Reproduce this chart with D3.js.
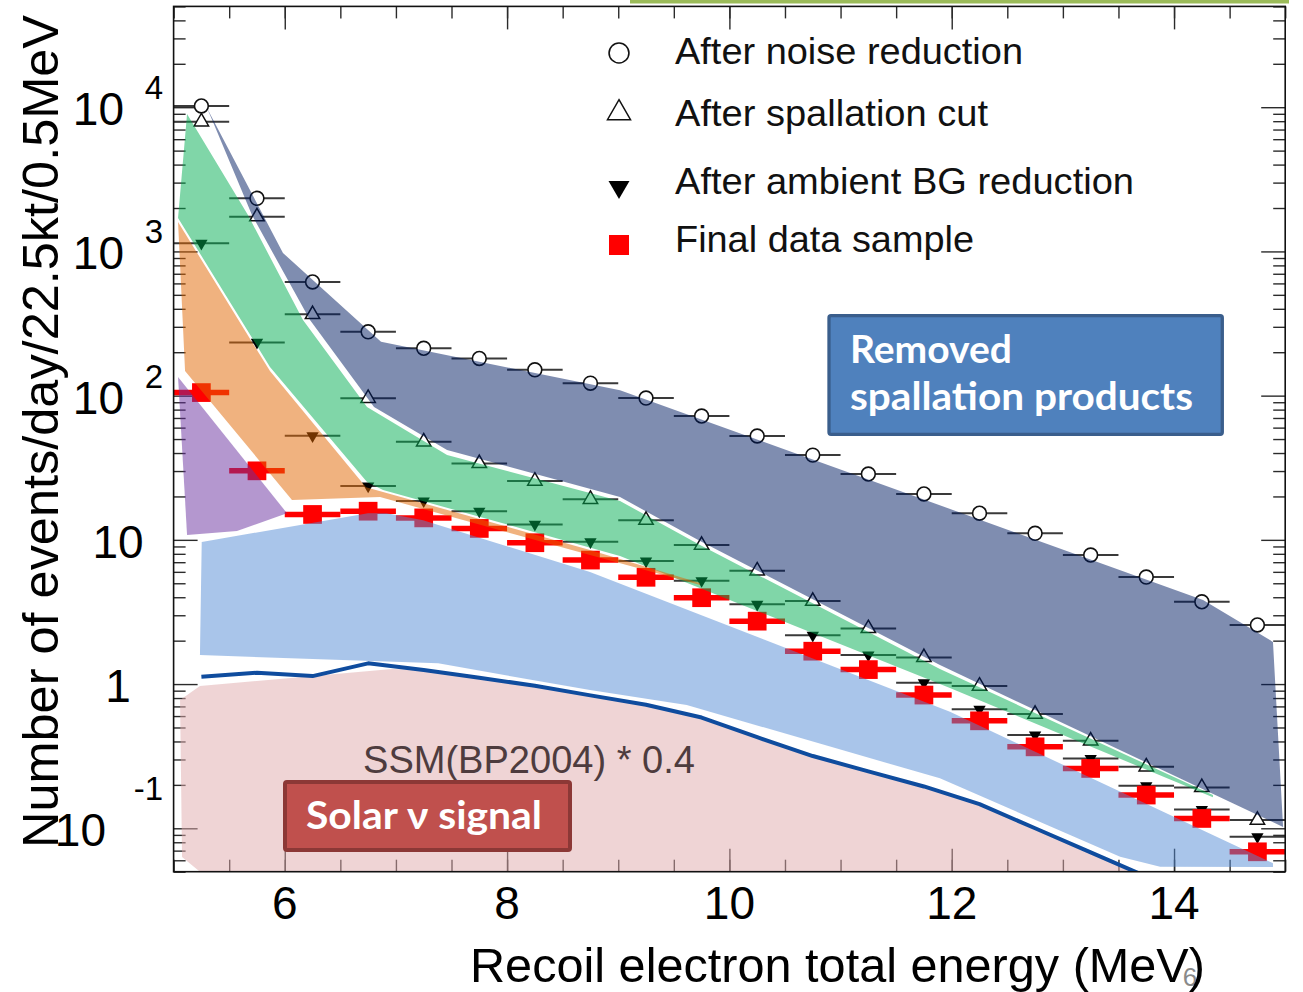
<!DOCTYPE html>
<html>
<head>
<meta charset="utf-8">
<script src="https://cdn.jsdelivr.net/npm/d3@7"></script>
<style>
  html, body { margin: 0; padding: 0; background: #fff; }
  svg { display: block; }
</style>
</head>
<body>
<svg id="chart" width="1303" height="992"></svg>
<script>
// ---- Data: recoil electron spectrum at each reduction step (events/day/22.5kt/0.5MeV) ----
const energy = [5.25, 5.75, 6.25, 6.75, 7.25, 7.75, 8.25, 8.75, 9.25, 9.75,
                10.25, 10.75, 11.25, 11.75, 12.25, 12.75, 13.25, 13.75, 14.25, 14.75];
const binHalfWidth = 0.25;

const afterNoise = [10200, 2335, 614, 277, 213, 181, 151, 122, 96.2, 72.2,
                    52.5, 38.7, 28.6, 20.8, 15.3, 11.1, 7.85, 5.52, 3.72, 2.57];
const afterSpallation = [7930, 1741, 366, 95.8, 47.9, 33.9, 25.6, 19.1, 13.7, 9.2,
                         6.1, 3.76, 2.43, 1.53, 0.969, 0.619, 0.404, 0.267, 0.192, 0.114];
const afterAmbient = [1138, 234, 52.7, 23.6, 18.6, 15.8, 12.8, 9.70, 7.13, 5.21,
                      3.57, 2.18, 1.59, 1.02, 0.668, 0.443, 0.305, 0.197, 0.135, 0.0873];
const finalSample = [105, 30.1, 15.0, 15.8, 14.2, 12.0, 9.55, 7.24, 5.50, 3.97,
                     2.73, 1.69, 1.26, 0.839, 0.556, 0.367, 0.260, 0.170, 0.117, 0.0687];

// Solar model expectation, SSM(BP2004) x 0.4
const ssmEnergy = [5.25, 5.75, 6.25, 6.75, 7.25, 7.75, 8.25, 8.75, 9.25, 9.75,
                   10.25, 10.75, 11.25, 11.75, 12.25, 12.75, 13.25, 13.75];
const ssmRate = [1.124, 1.198, 1.136, 1.392, 1.25, 1.107, 0.973, 0.835, 0.718, 0.586,
                 0.428, 0.317, 0.248, 0.195, 0.147, 0.100, 0.068, 0.0463];

// Shaded components, outlines as [energy (MeV), rate] pairs
const spallationUpper = [[5.300, 9870], [5.984, 975], [6.866, 236], [9.016, 109], [14.261, 3.83], [14.890, 1.96]];
const spallationLower = [[5.347, 8150], [5.705, 1787], [6.227, 334], [6.803, 83.4], [7.460, 42.0],
                         [9.016, 19.8], [9.736, 9.81], [11.894, 1.355], [14.981, 0.102]];

const ambientUpper = [[5.121, 8970], [5.669, 1787], [6.164, 334], [6.740, 83.4], [7.460, 38.7],
                      [9.016, 18.6], [9.736, 9.20], [11.894, 1.27], [14.350, 0.170]];
const ambientLower = [[5.040, 1706], [5.867, 158], [6.740, 25.2], [6.884, 22.2], [9.016, 7.72],
                      [11.984, 0.938], [14.350, 0.164]];

const reductionUpper = [[5.040, 1600], [5.867, 148], [6.731, 23.2], [8.746, 8.5], [9.736, 5.02]];
const reductionLower = [[5.103, 148], [6.065, 18.9], [6.857, 19.8], [8.746, 7.85], [9.736, 4.86]];

const lowEnergyUpper = [[5.040, 134.6], [6.020, 15.3]];
const lowEnergyLower = [[5.121, 10.8], [5.570, 11.5], [6.020, 15.3]];

const backgroundUpper = [[5.253, 9.66], [6.749, 15.3], [6.917, 15.3], [7.244, 13.7], [8.746, 5.98],
                         [11.984, 0.642], [14.890, 0.0573]];
const backgroundLower = [[5.237, 1.589], [7.380, 1.392], [8.746, 0.909], [9.616, 0.715], [11.894, 0.222],
                         [13.515, 0.0634], [13.875, 0.0541], [14.890, 0.0538]];

const signalLeftEdge = [[5.058, 0.774], [5.237, 0.969], [6.965, 1.27]];
const signalLower = [[5.076, 0.0632], [5.237, 0.05], [13.75, 0.05]];

// Axis ticks and labels
const xMinorTicks = d3.range(5, 15.001, 0.5);
const xTickLabels = [6, 8, 10, 12, 14];
const yDecades = [0.1, 1, 10, 100, 1000, 10000];
const yLabelValues = [10000, 1000, 100, 10, 1, 0.1];
const yLabelBase = ["10", "10", "10", "10", "1", "10"];
const yLabelExp = ["4", "3", "2", "", "", "-1"];

const legendLabels = ["After noise reduction", "After spallation cut",
                      "After ambient BG reduction", "Final data sample"];

// ---- Scales ----
const svg = d3.select("#chart");
const x = d3.scaleLinear().domain([5, 15]).range([173.6, 1285.2]);
const y = d3.scaleLog().domain([0.05, 5e4]).range([871.7, 6.4]);
const [xL, xR] = x.range();
const [yB, yT] = y.range();

const yMinorTicks = [];
for (let p = -2; p <= 4; p++) {
  for (let k = 2; k <= 9; k++) {
    const v = k * Math.pow(10, p);
    if (v >= 0.05 && v <= 5e4) yMinorTicks.push(v);
  }
}

svg.append("defs").append("clipPath").attr("id", "plotArea")
  .append("rect").attr("x", xL).attr("y", yT).attr("width", xR - xL).attr("height", yB - yT);

// thin green rule along the top edge
svg.append("line").attr("x1", 630).attr("x2", 1289).attr("y1", 1.5).attr("y2", 1.5)
  .attr("stroke", "#9bbb59").attr("stroke-width", 4);

// ---- Ticks (inward on all four sides) ----
function ticks(axisFn, scale, values, len, tx, ty) {
  const g = svg.append("g").attr("transform", `translate(${tx},${ty})`)
    .call(axisFn(scale).tickValues(values).tickSizeInner(-len).tickSizeOuter(0).tickFormat(""));
  g.select(".domain").remove();
  g.selectAll("line").attr("stroke", "#2b2b2b").attr("stroke-width", 1.4);
  g.selectAll("text").remove();
}
ticks(d3.axisBottom, x, xMinorTicks, 12, 0, yB);
ticks(d3.axisBottom, x, xTickLabels, 23, 0, yB);
ticks(d3.axisTop, x, xMinorTicks, 12, 0, yT);
ticks(d3.axisTop, x, xTickLabels, 23, 0, yT);
ticks(d3.axisLeft, y, yMinorTicks, 12, xL, 0);
ticks(d3.axisLeft, y, yDecades, 24, xL, 0);
ticks(d3.axisRight, y, yMinorTicks, 12, xR, 0);
ticks(d3.axisRight, y, yDecades, 24, xR, 0);

// ---- Data points with bin-width error bars ----
const pointsLayer = svg.append("g");
function drawSeries(values, opt) {
  const pts = energy.map((e, i) => [e, values[i]]);
  const g = pointsLayer.append("g");
  g.selectAll("line").data(pts).join("line")
    .attr("x1", d => x(d[0] - binHalfWidth)).attr("x2", d => x(d[0] + binHalfWidth))
    .attr("y1", d => y(d[1])).attr("y2", d => y(d[1]))
    .attr("stroke", opt.barColor).attr("stroke-width", opt.barWidth);
  g.selectAll("path").data(pts).join("path")
    .attr("transform", d => `translate(${x(d[0])},${y(d[1])})` + (opt.flip ? " rotate(180)" : ""))
    .attr("d", d3.symbol(opt.type, opt.size)())
    .attr("fill", opt.fill).attr("stroke", opt.stroke).attr("stroke-width", opt.strokeWidth);
}
const seriesStyle = [
  { type: d3.symbolCircle, size: 150, fill: "#fff", stroke: "#111", strokeWidth: 1.6, barColor: "#3a3a3a", barWidth: 2 },
  { type: d3.symbolTriangle, size: 90, fill: "#fff", stroke: "#111", strokeWidth: 1.5, barColor: "#3a3a3a", barWidth: 2 },
  { type: d3.symbolTriangle, size: 66, flip: true, fill: "#000", stroke: "none", strokeWidth: 0, barColor: "#3a3a3a", barWidth: 2 },
  { type: d3.symbolSquare, size: 350, fill: "#ff0000", stroke: "none", strokeWidth: 0, barColor: "#ff0000", barWidth: 5.5 }
];
drawSeries(afterNoise, seriesStyle[0]);
drawSeries(afterSpallation, seriesStyle[1]);
drawSeries(afterAmbient, seriesStyle[2]);
drawSeries(finalSample, seriesStyle[3]);

// ---- Shaded components (translucent, laid over the points) ----
const bandLayer = svg.append("g").attr("clip-path", "url(#plotArea)");
const outline = d3.line().x(d => x(d[0])).y(d => y(d[1]));
function band(upper, lower, color) {
  bandLayer.append("path")
    .attr("d", outline(upper.concat(lower.slice().reverse())) + "Z")
    .attr("fill", color).attr("fill-opacity", 0.5).attr("stroke", "none");
}
const signalUpper = signalLeftEdge.concat(
  ssmEnergy.map((e, i) => [e, ssmRate[i]]).filter(d => d[0] > 7));

band(spallationUpper, spallationLower, "rgb(0,27,97)");
band(ambientUpper, ambientLower, "rgb(1,173,81)");
band(reductionUpper, reductionLower, "rgb(225,101,0)");
band(lowEnergyUpper, lowEnergyLower, "rgb(105,47,159)");
band(backgroundUpper, backgroundLower, "rgb(83,139,213)");
band(signalUpper, signalLower, "rgb(223,169,171)");

// SSM expectation curve
bandLayer.append("path")
  .attr("d", outline(ssmEnergy.map((e, i) => [e, ssmRate[i]])))
  .attr("fill", "none").attr("stroke", "#0f4c9e").attr("stroke-width", 4)
  .attr("stroke-linejoin", "round");

// ---- Frame ----
svg.append("rect").attr("x", xL).attr("y", yT).attr("width", xR - xL).attr("height", yB - yT)
  .attr("fill", "none").attr("stroke", "#111").attr("stroke-width", 1.6);

// ---- Tick labels ----
const sans = "'Liberation Sans', Arial, Helvetica, sans-serif";
svg.append("g").selectAll("text").data(xTickLabels).join("text")
  .attr("x", d => x(d)).attr("y", 919).attr("text-anchor", "middle")
  .attr("font-family", sans).attr("font-size", 46).attr("fill", "#000")
  .text(d => d);

const yLab = svg.append("g").attr("font-family", sans).attr("fill", "#000");
yLabelValues.forEach((v, i) => {
  const ty = y(v);
  const exp = yLabelExp[i];
  if (exp) {
    const neg = exp.startsWith("-");
    yLab.append("text").attr("x", 163).attr("y", ty + (neg ? -28 : -8))
      .attr("text-anchor", "end").attr("font-size", 33).text(exp);
    yLab.append("text").attr("x", neg ? 106 : 124).attr("y", ty + 18)
      .attr("text-anchor", "end").attr("font-size", 46).text(yLabelBase[i]);
  } else {
    yLab.append("text").attr("x", 118).attr("y", ty + 18)
      .attr("text-anchor", "middle").attr("font-size", 46).text(yLabelBase[i]);
  }
});

// ---- Axis titles ----
svg.append("text").attr("x", 1190).attr("y", 986).attr("text-anchor", "middle")
  .attr("font-family", sans).attr("font-size", 26).attr("fill", "#8a8a8a").text("6");
svg.append("text").attr("x", 470).attr("y", 982)
  .attr("font-family", sans).attr("font-size", 48).attr("fill", "#000")
  .attr("textLength", 735).attr("lengthAdjust", "spacingAndGlyphs")
  .text("Recoil electron total energy (MeV)");
svg.append("text").attr("transform", "translate(58,431.5) rotate(-90)")
  .attr("text-anchor", "middle")
  .attr("font-family", sans).attr("font-size", 50).attr("fill", "#000")
  .attr("textLength", 833).attr("lengthAdjust", "spacingAndGlyphs")
  .text("Number of events/day/22.5kt/0.5MeV");

// ---- Legend ----
const legendY = [53, 113, 187, 245];
const legendSizes = [310, 230, 190, 400];
const legend = svg.append("g");
legendLabels.forEach((label, i) => {
  const s = seriesStyle[i];
  legend.append("path")
    .attr("transform", `translate(619,${legendY[i]})` + (s.flip ? " rotate(180)" : ""))
    .attr("d", d3.symbol(s.type, legendSizes[i])())
    .attr("fill", s.fill).attr("stroke", s.stroke).attr("stroke-width", s.strokeWidth);
});
const legendWidths = [348, 313, 459, 299];
const legendBase = [64, 126, 194, 252];
legendLabels.forEach((label, i) => {
  legend.append("text").attr("x", 675).attr("y", legendBase[i])
    .attr("font-family", sans).attr("font-size", 37).attr("fill", "#111")
    .attr("textLength", legendWidths[i]).attr("lengthAdjust", "spacingAndGlyphs")
    .text(label);
});

// ---- Annotations ----
svg.append("text").attr("x", 363).attr("y", 773)
  .attr("font-family", sans).attr("font-size", 38).attr("fill", "#4e3c3e")
  .attr("textLength", 332).attr("lengthAdjust", "spacingAndGlyphs")
  .text("SSM(BP2004) * 0.4");

const boxFont = "Lato, 'Open Sans', 'DejaVu Sans', sans-serif";
svg.append("rect").attr("x", 829).attr("y", 315.7).attr("width", 393.3).attr("height", 118.6)
  .attr("rx", 2).attr("fill", "#4f81bd").attr("stroke", "#3a5e8c").attr("stroke-width", 3.3);
svg.append("text").attr("x", 850).attr("y", 363)
  .attr("font-family", boxFont).attr("font-weight", 700).attr("font-size", 39).attr("fill", "#fff")
  .attr("textLength", 162).attr("lengthAdjust", "spacingAndGlyphs").text("Removed");
svg.append("text").attr("x", 850).attr("y", 410)
  .attr("font-family", boxFont).attr("font-weight", 700).attr("font-size", 39).attr("fill", "#fff")
  .attr("textLength", 343).attr("lengthAdjust", "spacingAndGlyphs").text("spallation products");

svg.append("rect").attr("x", 285).attr("y", 782).attr("width", 285).attr("height", 68)
  .attr("rx", 2).attr("fill", "#c0504d").attr("stroke", "#8c3836").attr("stroke-width", 4);
svg.append("text").attr("x", 306).attr("y", 829)
  .attr("font-family", boxFont).attr("font-weight", 700).attr("font-size", 39).attr("fill", "#fff")
  .attr("textLength", 236).attr("lengthAdjust", "spacingAndGlyphs").text("Solar ν signal");
</script>
</body>
</html>
